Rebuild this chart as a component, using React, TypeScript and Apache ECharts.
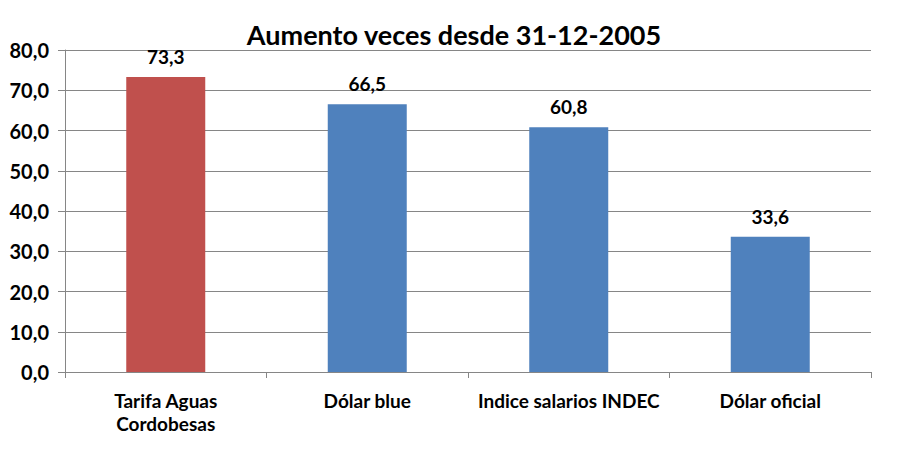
import { useEffect, useRef } from 'react';
import * as echarts from 'echarts';

const categories = ['Tarifa Aguas\nCordobesas', 'Dólar blue', 'Indice salarios INDEC', 'Dólar oficial'];
const values = [73.3, 66.5, 60.8, 33.6];
const barColors = ['#C0504D', '#4F81BD', '#4F81BD', '#4F81BD'];

const FONT = 'Lato';
const fmt = (v: number) => v.toFixed(1).replace('.', ',');

export default function App() {
  const ref = useRef<HTMLDivElement | null>(null);

  useEffect(() => {
    document.body.style.margin = '0';
    if (!ref.current) return;
    const chart = echarts.init(ref.current, undefined, { renderer: 'svg' });

    chart.setOption({
      animation: false,
      backgroundColor: '#fff',
      title: {
        text: 'Aumento veces desde 31-12-2005',
        left: 'center',
        top: 16,
        textStyle: { fontFamily: FONT, fontSize: 27, fontWeight: 'bold', color: '#000' },
      },
      grid: { left: 65, right: 37, top: 50, bottom: 78 },
      xAxis: {
        type: 'category',
        data: categories,
        axisLine: { lineStyle: { color: '#868686' } },
        axisTick: { show: true, interval: 0, alignWithLabel: false, length: 6, lineStyle: { color: '#868686' } },
        axisLabel: {
          interval: 0,
          fontFamily: FONT,
          fontSize: 19,
          fontWeight: 'bold',
          color: '#000',
          margin: 17,
          lineHeight: 23,
        },
      },
      yAxis: {
        type: 'value',
        min: 0,
        max: 80,
        interval: 10,
        axisLine: { show: true, lineStyle: { color: '#868686' } },
        axisTick: { show: true, length: 7, lineStyle: { color: '#868686' } },
        splitLine: { lineStyle: { color: '#868686' } },
        axisLabel: {
          fontFamily: FONT,
          fontSize: 20,
          fontWeight: 'bold',
          color: '#000',
          margin: 16,
          formatter: (v: number) => fmt(v),
        },
      },
      series: [
        {
          type: 'bar',
          barWidth: 79,
          data: values.map((v, i) => ({ value: v, itemStyle: { color: barColors[i] } })),
          label: {
            show: true,
            position: 'top',
            distance: 11,
            fontFamily: FONT,
            fontSize: 19,
            fontWeight: 'bold',
            color: '#000',
            formatter: (p: any) => fmt(p.value),
          },
        },
      ],
    });

    return () => chart.dispose();
  }, []);

  return <div ref={ref} style={{ width: 908, height: 450 }} />;
}
